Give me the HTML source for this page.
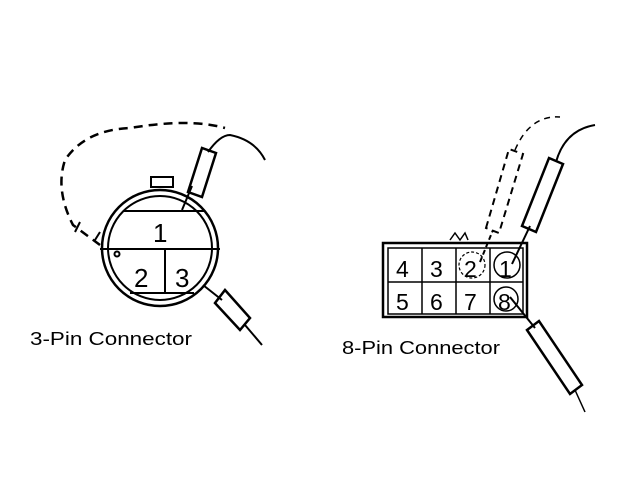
<!DOCTYPE html>
<html><head><style>body{margin:0;background:#fff}svg{display:block}</style></head><body>
<svg width="632" height="482" viewBox="0 0 632 482" xmlns="http://www.w3.org/2000/svg">
<g fill="none" stroke="#000" stroke-width="2">
<!-- 3-pin -->
<circle cx="160" cy="248" r="58" stroke-width="2.5"/>
<circle cx="160" cy="248" r="52"/>
<rect x="151" y="177" width="22" height="10"/>
<line x1="123" y1="211" x2="205" y2="211"/>
<line x1="100" y1="249" x2="220" y2="249"/>
<line x1="165" y1="249" x2="165" y2="293"/>
<line x1="130" y1="293" x2="194" y2="293"/>
<circle cx="117" cy="254" r="2.5"/>
<path d="M182 210 L192 186"/>
<path d="M188 192 L202 148 L216 153 L202 197 Z" stroke-width="2.5"/>
<path d="M208 152 Q220 135 230 135 Q255 140 265 160"/>
<path d="M203 285 L222 300"/>
<path d="M215 303 L225 290 L250 318 L240 330 Z" stroke-width="2.5"/>
<path d="M245 325 L262 345"/>
<path d="M100 245 L73 225 Q55 190 65 160 Q85 130 130 128 Q190 118 225 128" stroke-dasharray="9,6" stroke-width="2.5"/>
<path d="M75 232 L80 222 M95 240 L100 232"/>
<!-- 8-pin -->
<rect x="383" y="243" width="144" height="74" stroke-width="2.5"/>
<rect x="388" y="248" width="135" height="66" stroke-width="1.5"/>
<line x1="388" y1="282" x2="523" y2="282" stroke-width="1.5"/>
<line x1="422" y1="248" x2="422" y2="314" stroke-width="1.5"/>
<line x1="456" y1="248" x2="456" y2="314" stroke-width="1.5"/>
<line x1="490" y1="248" x2="490" y2="314" stroke-width="1.5"/>
<circle cx="507" cy="265" r="13" stroke-width="1.5"/>
<circle cx="506" cy="299" r="12" stroke-width="1.5"/>
<circle cx="472" cy="265" r="13" stroke-width="1.2" stroke-dasharray="3,2"/>
<path d="M450 240 L455 233 L460 240 L465 233 L468 240" stroke-width="1.5"/>
<path d="M512 264 L530 226"/>
<path d="M522 226 L549 158 L563 164 L536 232 Z" stroke-width="2.5"/>
<path d="M556 162 Q565 130 595 125"/>
<path d="M480 262 L493 230" stroke-dasharray="5,3"/>
<path d="M486 228 L509 149 L523 154 L499 233 Z" stroke-dasharray="7,5"/>
<path d="M515 150 Q530 115 560 117" stroke-dasharray="6,5" stroke-width="1.5"/>
<path d="M510 297 L535 328"/>
<path d="M527 330 L539 321 L582 385 L570 394 Z" stroke-width="2.5"/>
<path d="M575 390 L585 412" stroke-width="1.5"/>
</g>
<g font-family="Liberation Sans, sans-serif" fill="#000">
<text x="153" y="242" font-size="26">1</text>
<text x="134" y="287" font-size="26">2</text>
<text x="175" y="287" font-size="26">3</text>
<text x="396" y="277" font-size="23">4</text>
<text x="430" y="277" font-size="23">3</text>
<text x="464" y="277" font-size="23">2</text>
<text x="499" y="277" font-size="23">1</text>
<text x="396" y="310" font-size="23">5</text>
<text x="430" y="310" font-size="23">6</text>
<text x="464" y="310" font-size="23">7</text>
<text x="498" y="310" font-size="23">8</text>
<text x="30" y="345" font-size="18" textLength="162" lengthAdjust="spacingAndGlyphs">3-Pin Connector</text>
<text x="342" y="354" font-size="18" textLength="158" lengthAdjust="spacingAndGlyphs">8-Pin Connector</text>
</g>
</svg>
</body></html>
